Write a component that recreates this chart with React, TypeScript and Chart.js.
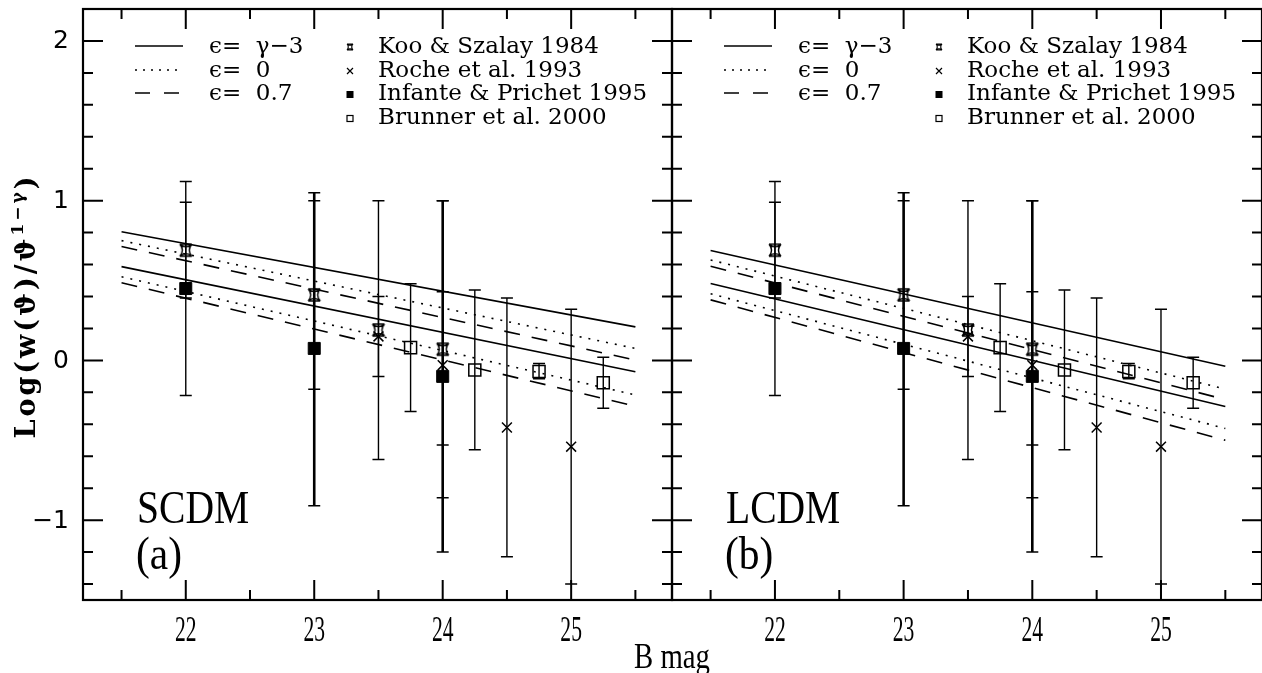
import React, { useEffect, useRef } from "react";
import { Chart, registerables } from "chart.js";

Chart.register(...registerables);

// ---------------- axes ----------------
const X_MIN = 21.2;
const X_MAX = 25.785;
const Y_MIN = -1.5;
const Y_MAX = 2.2;
const xTickValues = [22, 23, 24, 25];
const xTickLabels = ["22", "23", "24", "25"];
const yTickValues = [-1, 0, 1, 2];
const yTickLabels = ["\u22121", "0", "1", "2"];
const xMinorStep = 0.5;
const yMinorStep = 0.2;
const xAxisTitle = "B mag";

// ---------------- observations ----------------
const kooX = [22, 23, 23.5, 24];
const kooY = [0.69, 0.41, 0.19, 0.07];
const kooLo = [0.39, -0.18, -0.62, -0.86];
const kooHi = [0.99, 1.0, 1.0, 1.0];

const rocheX = [23.5, 24, 24.5, 25];
const rocheY = [0.15, -0.03, -0.42, -0.54];
const rocheLo = [-0.1, -0.53, -1.23, -1.4];
const rocheHi = [0.4, 0.43, 0.39, 0.32];

const infanteX = [22, 23, 24];
const infanteY = [0.45, 0.075, -0.1];
const infanteLo = [-0.22, -0.91, -1.2];
const infanteHi = [1.12, 1.05, 1.0];

const brunnerX = [23.75, 24.25, 24.75, 25.25];
const brunnerY = [0.08, -0.06, -0.07, -0.14];
const brunnerLo = [-0.32, -0.56, -0.115, -0.3];
const brunnerHi = [0.48, 0.44, -0.02, 0.02];

// ---------------- models (values at modelX) ----------------
const modelX = [21.5, 25.5];
const scdmSolidHi = [0.805, 0.21];
const scdmDotHi = [0.75, 0.075];
const scdmDashHi = [0.713, 0.002];
const scdmSolidLo = [0.587, -0.071];
const scdmDotLo = [0.524, -0.216];
const scdmDashLo = [0.486, -0.287];

const lcdmSolidHi = [0.688, -0.036];
const lcdmDotHi = [0.629, -0.18];
const lcdmDashHi = [0.589, -0.245];
const lcdmSolidLo = [0.482, -0.289];
const lcdmDotLo = [0.417, -0.426];
const lcdmDashLo = [0.379, -0.5];

// ---------------- texts ----------------
const legendLineLabels = ["\u03f5=  \u03b3\u22123", "\u03f5=  0", "\u03f5=  0.7"];
const legendPointLabels = [
  "Koo & Szalay 1984",
  "Roche et al. 1993",
  "Infante & Prichet 1995",
  "Brunner et al. 2000",
];
const panelNames = ["SCDM", "LCDM"];
const panelTags = ["(a)", "(b)"];
const yTitleMain = "Log(w(\u03d1)/\u03d1";
const yTitleSup = "1\u2212\u03b3";
const yTitleEnd = ")";

const BLACK = "#000";
const DOT = [2, 7];
const DASH = [16, 12];
const dashStyles = [[], DOT, DASH, [], DOT, DASH];

function pts(xs: number[], ys: number[]) {
  return xs.map((x, i) => ({ x, y: ys[i] }));
}

function drawKoo(ctx: CanvasRenderingContext2D, x: number, y: number, r: number, lw: number) {
  ctx.save();
  ctx.translate(x, y);
  ctx.strokeStyle = BLACK;
  ctx.lineWidth = lw;
  ctx.setLineDash([]);
  const k = 0.15;
  ctx.beginPath();
  ctx.moveTo(-r, -r);
  ctx.quadraticCurveTo(0, -r * k, r, -r);
  ctx.quadraticCurveTo(r * k, 0, r, r);
  ctx.quadraticCurveTo(0, r * k, -r, r);
  ctx.quadraticCurveTo(-r * k, 0, -r, -r);
  ctx.moveTo(-r, -r);
  ctx.lineTo(r, -r);
  ctx.moveTo(-r, r);
  ctx.lineTo(r, r);
  ctx.stroke();
  ctx.restore();
}

function makeKooCanvas(r: number, lw: number) {
  const c = document.createElement("canvas");
  const s = Math.ceil(2 * r + 4);
  c.width = s;
  c.height = s;
  const ctx = c.getContext("2d")!;
  drawKoo(ctx, s / 2, s / 2, r, lw);
  return c;
}

const panelPlugin = {
  id: "panel",
  beforeDatasetsDraw(chart: any) {
    const { ctx, scales } = chart;
    const xs = scales.x;
    const ys = scales.y;
    ctx.save();
    ctx.strokeStyle = BLACK;
    ctx.setLineDash([]);
    chart.data.datasets.forEach((ds: any) => {
      if (!ds.errLo) return;
      ds.data.forEach((p: any, i: number) => {
        const px = xs.getPixelForValue(p.x);
        const y1 = ys.getPixelForValue(ds.errLo[i]);
        const y2 = ys.getPixelForValue(ds.errHi[i]);
        ctx.lineWidth = ds.barWidths ? ds.barWidths[i] : 1.4;
        ctx.beginPath();
        ctx.moveTo(px, y1);
        ctx.lineTo(px, y2);
        ctx.stroke();
        ctx.lineWidth = 1.5;
        ctx.beginPath();
        ctx.moveTo(px - 6, y1);
        ctx.lineTo(px + 6, y1);
        ctx.moveTo(px - 6, y2);
        ctx.lineTo(px + 6, y2);
        ctx.stroke();
      });
    });
    ctx.restore();
  },
  afterDraw(chart: any, _args: any, opts: any) {
    const { ctx, chartArea: a, scales } = chart;
    const xs = scales.x;
    const ys = scales.y;
    const idx = opts.index as number;
    ctx.save();
    ctx.strokeStyle = BLACK;
    ctx.fillStyle = BLACK;
    ctx.setLineDash([]);

    // frame
    ctx.lineWidth = 2.2;
    ctx.strokeRect(a.left, a.top, a.right - a.left, a.bottom - a.top);

    // ticks (inside, all four sides)
    ctx.lineWidth = 2;
    ctx.beginPath();
    for (let v = Math.ceil(X_MIN / xMinorStep) * xMinorStep; v < X_MAX; v += xMinorStep) {
      const major = Math.abs(v - Math.round(v)) < 1e-6;
      const len = major ? 20 : 10;
      const px = xs.getPixelForValue(v);
      ctx.moveTo(px, a.bottom);
      ctx.lineTo(px, a.bottom - len);
      ctx.moveTo(px, a.top);
      ctx.lineTo(px, a.top + len);
    }
    for (let k = Math.ceil(Y_MIN / yMinorStep + 1e-6); k * yMinorStep < Y_MAX - 1e-6; k++) {
      const v = k * yMinorStep;
      const major = Math.abs(v - Math.round(v)) < 1e-6;
      const len = major ? 20 : 10;
      const py = ys.getPixelForValue(v);
      ctx.moveTo(a.left, py);
      ctx.lineTo(a.left + len, py);
      ctx.moveTo(a.right, py);
      ctx.lineTo(a.right - len, py);
    }
    ctx.stroke();

    // x tick labels (condensed)
    ctx.font = '36px "Liberation Serif", serif';
    ctx.textAlign = "center";
    ctx.textBaseline = "alphabetic";
    xTickValues.forEach((v, i) => {
      const px = xs.getPixelForValue(v);
      ctx.save();
      ctx.translate(px, a.bottom + 41);
      ctx.scale(0.6, 1);
      ctx.fillText(xTickLabels[i], 0, 0);
      ctx.restore();
    });

    // y tick labels (left panel only)
    if (idx === 0) {
      ctx.font = '25px "DejaVu Sans", sans-serif';
      ctx.textAlign = "right";
      ctx.textBaseline = "middle";
      yTickValues.forEach((v, i) => {
        ctx.fillText(yTickLabels[i], a.left - 14, ys.getPixelForValue(v) + 1);
      });
    }

    // legend
    const L = a.left;
    const T = a.top;
    const rows = [37, 61, 84, 108];
    ctx.lineWidth = 1.5;
    const legDash = [[], [2, 6], [15, 14]];
    for (let i = 0; i < 3; i++) {
      ctx.setLineDash(legDash[i]);
      ctx.beginPath();
      ctx.moveTo(L + 52, T + rows[i]);
      ctx.lineTo(L + 100, T + rows[i]);
      ctx.stroke();
    }
    ctx.setLineDash([]);
    ctx.font = '23px "DejaVu Serif", serif';
    ctx.textAlign = "left";
    ctx.textBaseline = "middle";
    for (let i = 0; i < 3; i++) ctx.fillText(legendLineLabels[i], L + 126, T + rows[i] + 1);
    for (let i = 0; i < 4; i++) ctx.fillText(legendPointLabels[i], L + 295, T + rows[i] + 1);
    const sx = L + 267;
    drawKoo(ctx, sx, T + rows[0] + 1, 3, 1.1);
    ctx.lineWidth = 1.2;
    ctx.beginPath();
    ctx.moveTo(sx - 3, T + rows[1] - 2);
    ctx.lineTo(sx + 3, T + rows[1] + 4);
    ctx.moveTo(sx + 3, T + rows[1] - 2);
    ctx.lineTo(sx - 3, T + rows[1] + 4);
    ctx.stroke();
    ctx.fillRect(sx - 3.5, T + rows[2] - 2, 7, 7);
    ctx.strokeRect(sx - 3, T + rows[3] - 1.5, 6, 6);

    // panel labels
    ctx.font = '46px "Liberation Serif", serif';
    ctx.textAlign = "left";
    ctx.textBaseline = "alphabetic";
    ctx.save();
    ctx.translate(L + 54, 523);
    ctx.scale(0.86, 1);
    ctx.fillText(panelNames[idx], 0, 0);
    ctx.restore();
    ctx.save();
    ctx.translate(L + 53, 569);
    ctx.scale(0.9, 1);
    ctx.fillText(panelTags[idx], 0, 0);
    ctx.restore();

    // y title (left panel only)
    if (idx === 0) {
      ctx.save();
      ctx.translate(28, 306);
      ctx.rotate(-Math.PI / 2);
      ctx.textBaseline = "middle";
      ctx.textAlign = "left";
      (ctx as any).letterSpacing = "3px";
      const mainFont = 'bold 27px "DejaVu Serif", serif';
      const supFont = 'bold 17px "DejaVu Serif", serif';
      ctx.font = mainFont;
      const w1 = ctx.measureText(yTitleMain).width;
      const w3 = ctx.measureText(yTitleEnd).width;
      ctx.font = supFont;
      const w2 = ctx.measureText(yTitleSup).width;
      let x0 = -(w1 + w2 + w3) / 2;
      ctx.font = mainFont;
      ctx.fillText(yTitleMain, x0, 0);
      x0 += w1;
      ctx.font = supFont;
      ctx.fillText(yTitleSup, x0, -9);
      x0 += w2;
      ctx.font = mainFont;
      ctx.fillText(yTitleEnd, x0, 0);
      ctx.restore();
    }
    ctx.restore();
  },
};

function buildConfig(index: number, kooCanvas: HTMLCanvasElement) {
  const isLeft = index === 0;
  const lines = isLeft
    ? [scdmSolidHi, scdmDotHi, scdmDashHi, scdmSolidLo, scdmDotLo, scdmDashLo]
    : [lcdmSolidHi, lcdmDotHi, lcdmDashHi, lcdmSolidLo, lcdmDotLo, lcdmDashLo];
  const lineSets = lines.map((ys, i) => ({
    label: "model " + i,
    data: pts(modelX, ys),
    showLine: true,
    pointRadius: 0,
    borderColor: BLACK,
    borderWidth: 1.6,
    borderDash: dashStyles[i],
    fill: false,
  }));
  const pointSets = [
    {
      label: legendPointLabels[0],
      data: pts(kooX, kooY),
      pointStyle: kooCanvas,
      pointRadius: 7,
      borderColor: BLACK,
      backgroundColor: BLACK,
      showLine: false,
      errLo: kooLo,
      errHi: kooHi,
      barWidths: [1.4, 1.4, 1.4, 1.4],
    },
    {
      label: legendPointLabels[1],
      data: pts(rocheX, rocheY),
      pointStyle: "crossRot",
      pointRadius: 7,
      borderWidth: 1.5,
      borderColor: BLACK,
      backgroundColor: BLACK,
      showLine: false,
      errLo: rocheLo,
      errHi: rocheHi,
    },
    {
      label: legendPointLabels[2],
      data: pts(infanteX, infanteY),
      pointStyle: "rect",
      pointRadius: 8.5,
      borderWidth: 1,
      borderColor: BLACK,
      backgroundColor: BLACK,
      showLine: false,
      errLo: infanteLo,
      errHi: infanteHi,
      barWidths: [1.4, 2.6, 2.6],
    },
    {
      label: legendPointLabels[3],
      data: pts(brunnerX, brunnerY),
      pointStyle: "rect",
      pointRadius: 8.5,
      borderWidth: 1.5,
      borderColor: BLACK,
      backgroundColor: "rgba(0,0,0,0)",
      showLine: false,
      errLo: brunnerLo,
      errHi: brunnerHi,
    },
  ];
  return {
    type: "scatter" as const,
    data: { datasets: [...pointSets, ...lineSets] as any[] },
    plugins: [panelPlugin],
    options: {
      responsive: false,
      animation: false as const,
      devicePixelRatio: 1,
      events: [] as any[],
      layout: {
        autoPadding: false,
        padding: isLeft
          ? { left: 0, right: 8, top: 9, bottom: 0 }
          : { left: 8, right: 0, top: 9, bottom: 0 },
      },
      plugins: {
        legend: { display: false },
        tooltip: { enabled: false },
        panel: { index },
      },
      scales: {
        x: {
          type: "linear" as const,
          min: X_MIN,
          max: X_MAX,
          grid: { display: false, drawTicks: false },
          border: { display: false },
          ticks: { display: false },
          afterFit: (s: any) => {
            s.height = 73;
          },
          afterBuildTicks: (s: any) => {
            s.ticks = xTickValues.map((v) => ({ value: v }));
          },
        },
        y: {
          type: "linear" as const,
          display: isLeft,
          min: Y_MIN,
          max: Y_MAX,
          grid: { display: false, drawTicks: false },
          border: { display: false },
          ticks: { display: false },
          afterFit: (s: any) => {
            s.width = isLeft ? 83 : 0;
          },
          afterBuildTicks: (s: any) => {
            s.ticks = yTickValues.map((v) => ({ value: v }));
          },
        },
      },
    },
  };
}

export default function App() {
  const leftRef = useRef<HTMLCanvasElement>(null);
  const rightRef = useRef<HTMLCanvasElement>(null);

  useEffect(() => {
    const koo = makeKooCanvas(6, 1.4);
    const c1 = new Chart(leftRef.current!, buildConfig(0, koo) as any);
    const c2 = new Chart(rightRef.current!, buildConfig(1, koo) as any);
    return () => {
      c1.destroy();
      c2.destroy();
    };
  }, []);

  return (
    <div
      style={{
        position: "fixed",
        left: 0,
        top: 0,
        width: 1262,
        height: 673,
        background: "#fff",
        overflow: "hidden",
      }}
    >
      <canvas
        ref={leftRef}
        width={680}
        height={673}
        style={{ position: "absolute", left: 0, top: 0, width: 680, height: 673 }}
      />
      <canvas
        ref={rightRef}
        width={598}
        height={673}
        style={{ position: "absolute", left: 664, top: 0, width: 598, height: 673 }}
      />
      <div
        style={{
          position: "absolute",
          left: 572,
          top: 638,
          width: 200,
          textAlign: "center",
          font: '36px "Liberation Serif", serif',
          lineHeight: "36px",
          transform: "scaleX(0.8)",
          color: "#000",
          whiteSpace: "nowrap",
        }}
      >
        {xAxisTitle}
      </div>
    </div>
  );
}
